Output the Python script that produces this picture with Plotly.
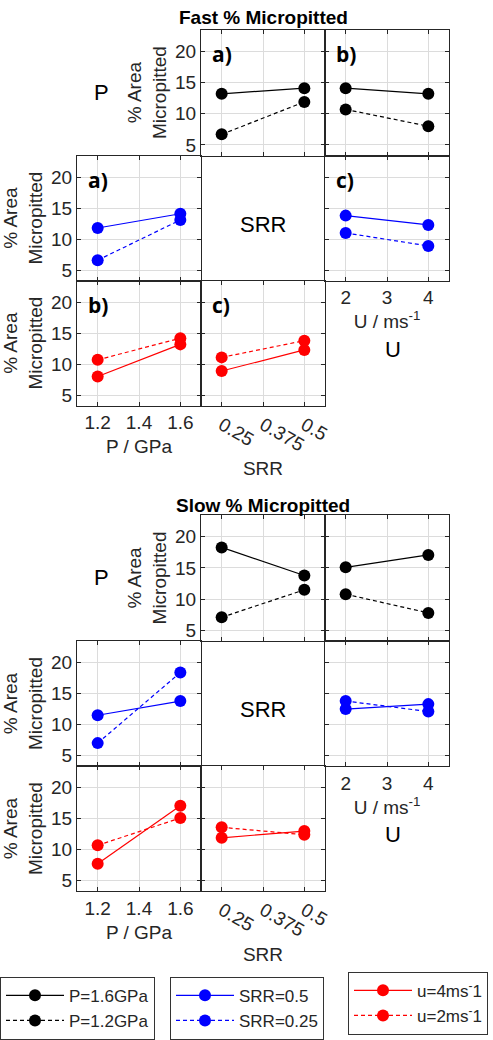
import plotly.graph_objects as go

W, H = 493, 1040

# ---------------- data ----------------
P_levels = [1.2, 1.6]
SRR_levels = [0.25, 0.5]
U_levels = [2, 4]

# Fast block
fast_P16_vs_SRR = [13.2, 14.1]
fast_P12_vs_SRR = [6.7, 11.9]
fast_P16_vs_U = [14.1, 13.2]
fast_P12_vs_U = [10.7, 8.0]
fast_SRR05_vs_P = [11.8, 14.1]
fast_SRR025_vs_P = [6.6, 13.1]
fast_SRR05_vs_U = [13.8, 12.3]
fast_SRR025_vs_U = [11.0, 8.9]
fast_U4_vs_P = [8.0, 13.2]
fast_U2_vs_P = [10.7, 14.2]
fast_U4_vs_SRR = [8.9, 12.3]
fast_U2_vs_SRR = [11.1, 13.8]

# Slow block
slow_P16_vs_SRR = [18.3, 13.8]
slow_P12_vs_SRR = [7.1, 11.5]
slow_P16_vs_U = [15.1, 17.1]
slow_P12_vs_U = [10.8, 7.8]
slow_SRR05_vs_P = [11.5, 13.8]
slow_SRR025_vs_P = [7.0, 18.4]
slow_SRR05_vs_U = [12.5, 13.3]
slow_SRR025_vs_U = [13.8, 12.1]
slow_U4_vs_P = [7.7, 17.1]
slow_U2_vs_P = [10.7, 15.1]
slow_U4_vs_SRR = [11.9, 13.0]
slow_U2_vs_SRR = [13.6, 12.4]

y_ticks = [5, 10, 15, 20]
P_ticks = [1.2, 1.4, 1.6]
SRR_ticks = [0.25, 0.375, 0.5]
SRR_ticklabels = ["0.25", "0.375", "0.5"]
U_ticks = [2, 3, 4]

legend_names = {
    "black": ["P=1.6GPa", "P=1.2GPa"],
    "blue": ["SRR=0.5", "SRR=0.25"],
    "red": ["u=4ms<sup>-</sup>1", "u=2ms<sup>-</sup>1"],
}

# ---------------- layout geometry (pixels) ----------------
cols = {1: (77, 201), 2: (201, 325), 3: (325, 449)}
blocks = {
    "fast": {1: (30, 158), 2: (158, 285), 3: (285, 412)},
    "slow": {1: (523, 651), 2: (651, 778), 3: (778, 905)},
}

def px_x(x):
    return x / W

def px_y(y):
    return 1 - y / H

xinfo = {
    "P": dict(range=[1.1, 1.7], tickvals=P_ticks, ticktext=["1.2", "1.4", "1.6"]),
    "SRR": dict(range=[0.1875, 0.5625], tickvals=SRR_ticks, ticktext=SRR_ticklabels),
    "U": dict(range=[1.5, 4.5], tickvals=U_ticks, ticktext=["2", "3", "4"]),
}
xvals = {"P": P_levels, "SRR": SRR_levels, "U": U_levels}

COLORS = {"black": "#000000", "blue": "#0000ff", "red": "#ff0000"}
TXT = "#262626"
GRID = "#dcdcdc"
FONT = "Liberation Sans, Arial, sans-serif"

# panel spec: (block, row, col, xvar, color, solid, dashed, ylabels, xlabels, xtitle, letter)
panels = [
    ("fast", 1, 2, "SRR", "black", fast_P16_vs_SRR, fast_P12_vs_SRR, True, False, None, "a)"),
    ("fast", 1, 3, "U", "black", fast_P16_vs_U, fast_P12_vs_U, False, False, None, "b)"),
    ("fast", 2, 1, "P", "blue", fast_SRR05_vs_P, fast_SRR025_vs_P, True, False, None, "a)"),
    ("fast", 2, 3, "U", "blue", fast_SRR05_vs_U, fast_SRR025_vs_U, False, True, "U / ms<sup>-1</sup>", "c)"),
    ("fast", 3, 1, "P", "red", fast_U4_vs_P, fast_U2_vs_P, True, True, "P / GPa", "b)"),
    ("fast", 3, 2, "SRR", "red", fast_U4_vs_SRR, fast_U2_vs_SRR, False, True, "SRR", "c)"),
    ("slow", 1, 2, "SRR", "black", slow_P16_vs_SRR, slow_P12_vs_SRR, True, False, None, None),
    ("slow", 1, 3, "U", "black", slow_P16_vs_U, slow_P12_vs_U, False, False, None, None),
    ("slow", 2, 1, "P", "blue", slow_SRR05_vs_P, slow_SRR025_vs_P, True, False, None, None),
    ("slow", 2, 3, "U", "blue", slow_SRR05_vs_U, slow_SRR025_vs_U, False, True, "U / ms<sup>-1</sup>", None),
    ("slow", 3, 1, "P", "red", slow_U4_vs_P, slow_U2_vs_P, True, True, "P / GPa", None),
    ("slow", 3, 2, "SRR", "red", slow_U4_vs_SRR, slow_U2_vs_SRR, False, True, "SRR", None),
]

fig = go.Figure()
layout = {}
annotations = []
legend_done = set()
legend_key = {"black": "legend", "blue": "legend2", "red": "legend3"}

for i, (blk, r, c, xvar, color, solid, dashed, ylab, xlab, xtitle, letter) in enumerate(panels):
    n = i + 1
    xa = "xaxis" if n == 1 else f"xaxis{n}"
    ya = "yaxis" if n == 1 else f"yaxis{n}"
    xref = "x" if n == 1 else f"x{n}"
    yref = "y" if n == 1 else f"y{n}"
    x0, x1 = cols[c]
    y0, y1 = blocks[blk][r]
    xi = xinfo[xvar]
    xax = dict(
        domain=[px_x(x0), px_x(x1)], anchor=yref, range=xi["range"],
        tickvals=xi["tickvals"], ticktext=xi["ticktext"], showticklabels=xlab,
        tickangle=30 if xvar == "SRR" else 0,
        ticks="inside", ticklen=4, tickcolor=TXT, showline=True, linecolor="#262626",
        linewidth=1, mirror="ticks", showgrid=True, gridcolor=GRID, gridwidth=1,
        zeroline=False, tickfont=dict(family=FONT, size=19, color=TXT),
        automargin=False,
    )
    if xtitle:
        xax["title"] = dict(text=xtitle, font=dict(family=FONT, size=19, color=TXT),
                            standoff=7)
    yax = dict(
        domain=[px_y(y1), px_y(y0)], anchor=xref, range=[3.3, 23.5],
        tickvals=y_ticks, showticklabels=ylab,
        ticks="inside", ticklen=4, tickcolor=TXT, showline=True, linecolor="#262626",
        linewidth=1, mirror="ticks", showgrid=True, gridcolor=GRID, gridwidth=1,
        zeroline=False, tickfont=dict(family=FONT, size=19, color=TXT),
        automargin=False,
    )
    if ylab:
        yax["title"] = dict(text="% Area<br>Micropitted",
                            font=dict(family=FONT, size=19, color=TXT), standoff=3)
    layout[xa] = xax
    layout[ya] = yax
    show = color not in legend_done
    legend_done.add(color)
    for vals, dash, name in ((solid, "solid", legend_names[color][0]),
                             (dashed, "4px,3px", legend_names[color][1])):
        fig.add_trace(go.Scatter(
            x=xvals[xvar], y=vals, xaxis=xref, yaxis=yref, mode="lines+markers",
            line=dict(color=COLORS[color], width=1.2, dash=dash),
            marker=dict(color=COLORS[color], size=12),
            name=name, showlegend=show, legend=legend_key[color],
        ))
    if letter:
        annotations.append(dict(
            text=f"<b>{letter}</b>", xref="paper", yref="paper",
            x=px_x(x0 + 9), y=px_y(y0 + 25), xanchor="left", yanchor="middle",
            showarrow=False, font=dict(family="Open Sans, Liberation Sans, sans-serif",
                                       size=21, color="#000000"),
        ))

# Block titles and factor labels
for blk, title, ty in (("fast", "Fast % Micropitted", 18), ("slow", "Slow % Micropitted", 513)):
    annotations.append(dict(text=f"<b>{title}</b>", xref="paper", yref="paper",
                            x=px_x(263), y=px_y(ty), xanchor="center", yanchor="middle",
                            showarrow=False, font=dict(family=FONT, size=19, color="#000000")))
    off = 0 if blk == "fast" else 493
    for txt, xx, yy in (("P", 101, 94), ("SRR", 263, 228), ("U", 393, 355)):
        annotations.append(dict(text=txt, xref="paper", yref="paper",
                                x=px_x(xx), y=px_y(yy + off), xanchor="center",
                                yanchor="middle", showarrow=False,
                                font=dict(family=FONT, size=22, color="#000000")))

leg_common = dict(bordercolor="#333333", borderwidth=1, bgcolor="white",
                  font=dict(family=FONT, size=17, color=TXT),
                  yanchor="top", xanchor="left", itemwidth=58, tracegroupgap=0)

fig.update_layout(
    width=W, height=H, margin=dict(l=0, r=0, t=0, b=0),
    paper_bgcolor="white", plot_bgcolor="white",
    annotations=annotations,
    legend=dict(x=0.0, y=px_y(992), **leg_common),
    legend2=dict(x=px_x(170), y=px_y(992), **leg_common),
    legend3=dict(x=px_x(348), y=px_y(987), **leg_common),
    **layout,
)

fig.write_html("out.html")
